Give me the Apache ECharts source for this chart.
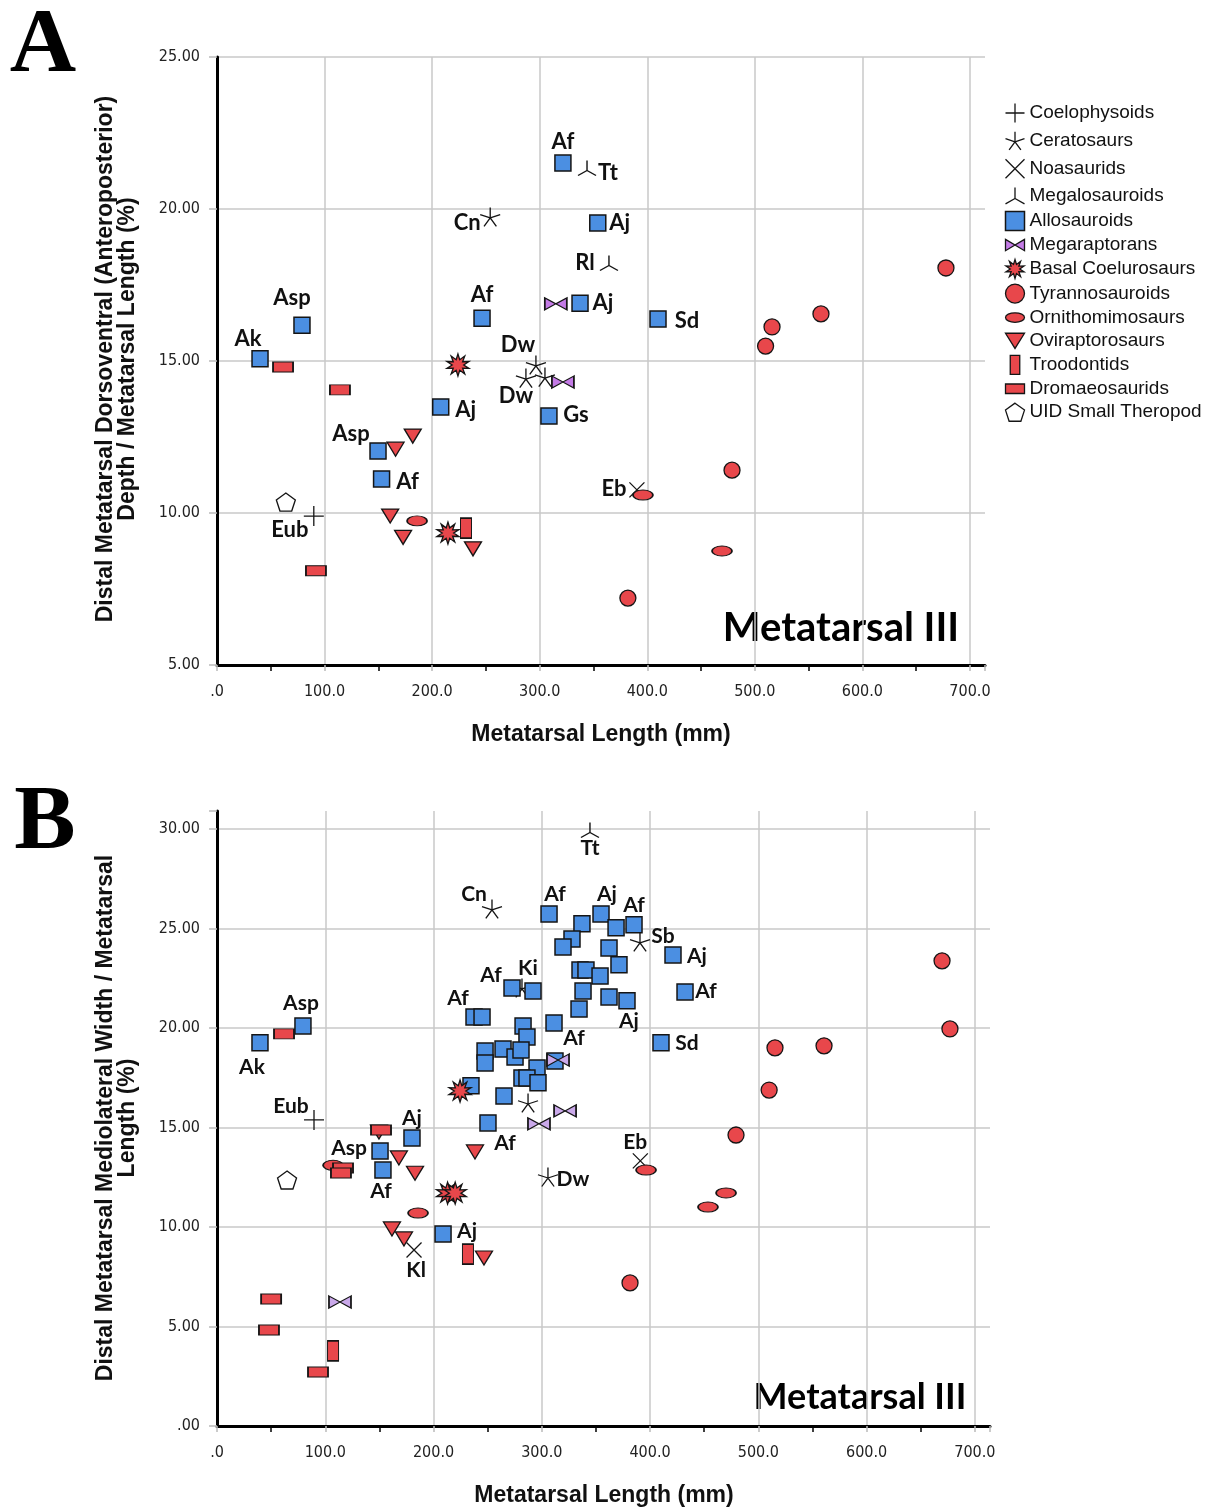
<!DOCTYPE html>
<html><head><meta charset="utf-8">
<script src="https://cdn.jsdelivr.net/npm/echarts@6/dist/echarts.min.js"></script>
<style>html,body{margin:0;padding:0;background:#fff}#c{width:1209px;height:1508px}</style>
</head><body><div id="c"></div><script>
// ---------------- DATA ----------------
const groupNames = ['Coelophysoids','Ceratosaurs','Noasaurids','Megalosauroids','Allosauroids','Megaraptorans','Basal Coelurosaurs','Tyrannosauroids','Ornithomimosaurs','Oviraptorosaurs','Troodontids','Dromaeosaurids','UID Small Theropod'];
const xTickValues = [0,100,200,300,400,500,600,700];
const yTicksA = [5,10,15,20,25];
const yTicksB = [0,5,10,15,20,25,30];

// Panel A: [metatarsal length (mm), depth/length (%), label]
const aCoelophysoids = [[90,9.9,'Eub']];
const aCeratosaurs = [[254,19.74,'Cn'],[296.5,14.87,'Dw'],[287.2,14.44,'Dw'],[304.9,14.47,'']];
const aNoasaurids = [[390.4,10.76,'Eb']];
const aMegalosauroids = [[344,21.35,'Tt'],[364.4,18.22,'Rl']];
const aAllosauroids = [[321.6,21.51,'Af'],[354,19.54,'Aj'],[337.5,16.9,'Aj'],[246.4,16.41,'Af'],[410,16.38,'Sd'],[79,16.18,'Asp'],[40,15.07,'Ak'],[208,13.49,'Aj'],[308.6,13.19,'Gs'],[149.7,12.04,'Asp'],[153,11.12,'Af']];
const aMegaraptorans = [[315,16.88],[321.6,14.31]];
const aBasalCoelurosaurs = [[224,14.87],[214.7,9.34]];
const aTyrannosauroids = [[677.7,18.06],[561.5,16.55],[516,16.12],[510,15.49],[478.8,11.41],[382,7.2]];
const aOrnithomimosaurs = [[396,10.59],[186,9.74],[469.5,8.75]];
const aOviraptorosaurs = [[182,12.53],[166,12.1],[161,9.9],[173,9.2],[238,8.82]];
const aTroodontids = [[231.5,9.5]];
const aDromaeosaurids = [[61.4,14.8],[114.3,14.05],[92,8.1]];
const aUID = [[64,10.36]];

// Panel B: [metatarsal length (mm), width/length (%), label]
const bCoelophysoids = [[89.6,15.38,'Eub']];
const bCeratosaurs = [[254,25.98,'Cn'],[390.7,24.32,'Sb'],[281.7,22.01,'Ki'],[287.3,16.23,''],[305.7,12.51,'Dw']];
const bNoasaurids = [[391,13.32,'Eb'],[182,8.84,'Kl']];
const bMegalosauroids = [[344.5,29.95,'Tt']];
const bAllosauroids = [[306.7,25.73,'Af'],[337.1,25.23],[327.9,24.47],[319.6,24.07],[354.7,25.73,'Aj'],[368.6,25.03],[385.2,25.18,'Af'],[362.1,24.02],[371.3,23.17],[335.3,22.91],[340.8,22.91],[353.8,22.61],[338.1,21.86],[362.1,21.56],[378.7,21.36,'Aj'],[334.4,20.95],[311.3,20.25,'Af'],[272.5,22.01,'Af'],[291.9,21.86],[237.4,20.55,'Af'],[244.8,20.55],[282.7,20.10],[286.3,19.55],[247.6,18.84],[247.6,18.24],[264.2,18.94],[275.3,18.54],[280.8,18.89],[295.6,17.99],[312.2,18.34],[281.7,17.49],[286.3,17.49],[296.5,17.24],[234.6,17.09],[265.1,16.58],[250.3,15.23,'Af'],[421.2,23.67,'Aj'],[432.3,21.81,'Af'],[410.1,19.25,'Sd'],[39.7,19.25,'Ak'],[79.4,20.10,'Asp'],[180.1,14.47,'Aj'],[150.6,13.82,'Asp'],[153.3,12.86,'Af'],[208.8,9.65,'Aj']];
const bMegaraptorans = [[315,18.39],[321.5,15.83],[297.4,15.18],[113.6,6.23]];
const bBasalCoelurosaurs = [[224.5,16.83],[213,11.7],[220,11.7]];
const bTyrannosauroids = [[669.7,23.37],[677,19.95],[515.4,19.0],[560.7,19.1],[510,16.88],[479.4,14.62],[381.5,7.19]];
const bOrnithomimosaurs = [[396.3,12.86],[470.2,11.71],[453.5,11.0],[185.7,10.7],[107.2,13.1]];
const bOviraptorosaurs = [[149.6,14.77],[168,13.47],[182.9,12.7],[161.6,9.9],[172.7,9.4],[246.6,8.44],[238.3,13.77]];
const bTroodontids = [[231.8,8.64],[107.2,3.77]];
const bDromaeosaurids = [[61.9,19.7],[151.5,14.87],[116.4,12.96],[114.5,12.71],[50,6.38],[48,4.82],[93.3,2.71]];
const bUID = [[64.7,12.36]];

// ---------------- STYLE ----------------
const LABEL_OFFSETS = {
  A: {
    Coelophysoids:{0:[-24,14]},
    Ceratosaurs:{0:[-23,6],1:[-18,-20],2:[-10,18]},
    Noasaurids:{0:[-23,-1]},
    Megalosauroids:{0:[21,5],1:[-24,0]},
    Allosauroids:{0:[0,-21],1:[22,0],2:[23,0],3:[0,-23],4:[29,2],5:[-10,-27],6:[-12,-20],7:[25,3],8:[27,-1],9:[-27,-17],10:[26,3]}
  },
  B: {
    Coelophysoids:{0:[-23,-14]},
    Ceratosaurs:{0:[-18,-15],1:[23,-6],2:[6,-20],4:[25,2]},
    Noasaurids:{0:[-5,-19],1:[2,20]},
    Megalosauroids:{0:[0,18]},
    Allosauroids:{0:[6,-20],4:[6,-20],6:[0,-20],14:[2,20],16:[20,15],17:[-21,-13],19:[-16,-19],35:[17,20],36:[24,1],37:[21,-1],38:[26,0],39:[-8,24],40:[-2,-23],41:[0,-20],42:[-31,-3],43:[-2,21],44:[24,-3]}
  }
};

function starPath(n, ro, ri){let s='';for(let i=0;i<2*n;i++){const r=i%2?ri:ro;const a=-Math.PI/2+i*Math.PI/n;s+=(i?'L':'M')+(10+r*Math.cos(a)).toFixed(2)+','+(10+r*Math.sin(a)).toFixed(2);}return 'path://'+s+'Z';}
function polyPath(n){let s='';for(let i=0;i<n;i++){const a=-Math.PI/2+i*2*Math.PI/n;s+=(i?'L':'M')+(10+10*Math.cos(a)).toFixed(2)+','+(10+10*Math.sin(a)).toFixed(2);}return 'path://'+s+'Z';}
function asterisk(){const angs=[90,18,162,-54,234];let s='';angs.forEach(d=>{const a=d*Math.PI/180;s+='M10,10L'+(10+10*Math.cos(a)).toFixed(2)+','+(10-10*Math.sin(a)).toFixed(2);});return 'path://'+s;}

const RED='#e8474b', BLUE='#4b8fe2';
const STYLE = {
  'Coelophysoids':{symbol:'path://M0,10L20,10M10,0L10,20',size:[20,20],fill:'none',lw:1.3},
  'Ceratosaurs':{symbol:asterisk(),size:[20,19],fill:'none',lw:1.3},
  'Noasaurids':{symbol:'path://M0,0L20,20M20,0L0,20',size:[15,15],fill:'none',lw:1.3},
  'Megalosauroids':{symbol:'path://M10,10L10,0M10,10L1.34,15M10,10L18.66,15',size:[18,15],fill:'none',lw:1.3},
  'Allosauroids':{symbol:'path://M0,0L16,0L16,16L0,16Z',size:[16,16],fill:BLUE,lw:1.5},
  'Megaraptorans':{symbol:'path://M0,0L10,6L0,12ZM20,0L10,6L20,12Z',size:[22,12],fill:'#c47be6',fillB:'#caa9ea',lw:1.3},
  'Basal Coelurosaurs':{symbol:starPath(10,10,5),size:[22,22],fill:RED,lw:1.3},
  'Tyrannosauroids':{symbol:'circle',size:[16,16],fill:RED,lw:1.3},
  'Ornithomimosaurs':{symbol:'path://M0,5A10,5,0,1,0,20,5A10,5,0,1,0,0,5Z',size:[20,10],fill:RED,lw:1.3},
  'Oviraptorosaurs':{symbol:'path://M0,0L20,0L10,16Z',size:[17,14],fill:RED,lw:1.3},
  'Troodontids':{symbol:'path://M0,0L10,0L10,20L0,20Z',size:[11,20],fill:RED,lw:1.3},
  'Dromaeosaurids':{symbol:'path://M0,0L20,0L20,10L0,10Z',size:[20,10],fill:RED,lw:1.3},
  'UID Small Theropod':{symbol:polyPath(5),size:[19,18],fill:'#ffffff',lw:1.3}
};
const DATA_A = [aCoelophysoids,aCeratosaurs,aNoasaurids,aMegalosauroids,aAllosauroids,aMegaraptorans,aBasalCoelurosaurs,aTyrannosauroids,aOrnithomimosaurs,aOviraptorosaurs,aTroodontids,aDromaeosaurids,aUID];
const DATA_B = [bCoelophysoids,bCeratosaurs,bNoasaurids,bMegalosauroids,bAllosauroids,bMegaraptorans,bBasalCoelurosaurs,bTyrannosauroids,bOrnithomimosaurs,bOviraptorosaurs,bTroodontids,bDromaeosaurids,bUID];

const LABEL_FONT = {fontFamily:'Lato', fontWeight:'bold', fontSize:22, color:'#111', align:'center', verticalAlign:'middle'};

function mkSeries(panel, name, arr){
  const st = STYLE[name];
  const offs = (LABEL_OFFSETS[panel?'B':'A'][name])||{};
  return {
    type:'scatter', name, xAxisIndex:panel, yAxisIndex:panel,
    symbol:st.symbol, symbolSize:st.size,
    itemStyle:{color:(panel===1&&st.fillB)?st.fillB:st.fill, borderColor:'#151515', borderWidth:st.lw, opacity:1},
    emphasis:{disabled:true}, silent:true,
    data: arr.map((p,i)=>{
      const d={value:[p[0],p[1]]};
      if(p[2]){ d.label=Object.assign({show:true, formatter:p[2], position:['50%','50%'], offset:offs[i]||[0,-20]}, LABEL_FONT, {fontSize: panel?21:22}); }
      return d;
    })
  };
}

const series=[];
groupNames.forEach((n,i)=>series.push(mkSeries(0,n,DATA_A[i])));
groupNames.forEach((n,i)=>series.push(mkSeries(1,n,DATA_B[i])));

const tickFont = {fontFamily:"'Liberation Sans Narrow','Arial Narrow','DejaVu Sans Condensed','Liberation Sans',sans-serif", fontSize:16, color:'#222'};
function xAxisCfg(gi){
  return {type:'value', gridIndex:gi, min:0, max:714, interval:100,
    axisLine:{show:true, onZero:false, lineStyle:{color:'#000', width:3}},
    axisTick:{show:true, length:6, lineStyle:{color:'#bbb', width:1.5}},
    minorTick:{show:true, splitNumber:2, length:6, lineStyle:{color:'#000', width:1.5}},
    splitLine:{show:true, showMaxLine:false, lineStyle:{color:'#c8c8c8', width:1.5}},
    axisLabel:Object.assign({margin:19, formatter:v=>xTickValues.indexOf(v)<0?'':(v===0?'.0':v.toFixed(1))}, tickFont)
  };
}
function yAxisCfg(gi, min, max, ticks){
  return {type:'value', gridIndex:gi, min, max, interval:5,
    axisLine:{show:true, onZero:false, lineStyle:{color:'#000', width:3}},
    axisTick:{show:true, length:8, lineStyle:{color:'#bbb', width:1.5}},
    splitLine:{show:true, showMaxLine: max===25, lineStyle:{color:'#c8c8c8', width:1.5}},
    axisLabel:Object.assign({margin:17, formatter:v=>ticks.indexOf(v)<0?'':(v===0?'.00':v.toFixed(2))}, tickFont)
  };
}

const axisTitleFont = 'bold 23px "Liberation Sans", Arial, sans-serif';
const yTitleFont = 'bold 23px "Liberation Sans", Arial, sans-serif';
const option = {
  backgroundColor:'#fff', animation:false,
  grid:[{left:217, top:57, width:768, height:608},{left:217, top:811, width:773, height:615}],
  xAxis:[xAxisCfg(0), xAxisCfg(1)],
  yAxis:[yAxisCfg(0,5,25,yTicksA), yAxisCfg(1,0,30.9,yTicksB)],
  legend:{
    data: groupNames.map(n=>({name:n, icon:STYLE[n].symbol, itemStyle:{color:STYLE[n].fill, borderColor:'#151515', borderWidth:STYLE[n].lw}})),
    orient:'vertical', left:1003, top:101, padding:0, itemWidth:19, itemHeight:19, itemGap:4.3,
    textStyle:{fontSize:19, fontFamily:'"Liberation Sans", Arial, sans-serif', color:'#111'},
    selectedMode:false, symbolKeepAspect:true
  },
  graphic:[
    {type:'text', x:43, y:47, style:{text:'A', font:'bold 92px "Liberation Serif", "Times New Roman", serif', fill:'#000', textAlign:'center', textVerticalAlign:'middle'}},
    {type:'text', x:45, y:824, style:{text:'B', font:'bold 92px "Liberation Serif", "Times New Roman", serif', fill:'#000', textAlign:'center', textVerticalAlign:'middle'}},
    {type:'text', x:841, y:628, style:{text:'Metatarsal III', font:'bold 40px Lato, sans-serif', fill:'#000', textAlign:'center', textVerticalAlign:'middle'}},
    {type:'text', x:860, y:1397, style:{text:'Metatarsal III', font:'bold 36px Lato, sans-serif', fill:'#000', textAlign:'center', textVerticalAlign:'middle'}},
    {type:'text', x:601, y:735, style:{text:'Metatarsal Length (mm)', font:axisTitleFont, fill:'#111', textAlign:'center', textVerticalAlign:'middle'}},
    {type:'text', x:604, y:1496, style:{text:'Metatarsal Length (mm)', font:axisTitleFont, fill:'#111', textAlign:'center', textVerticalAlign:'middle'}},
    {type:'text', x:117, y:359, rotation:Math.PI/2, style:{text:'Distal Metatarsal Dorsoventral (Anteroposterior)\nDepth / Metatarsal Length (%)', font:yTitleFont, lineHeight:22, fill:'#111', textAlign:'center', textVerticalAlign:'middle'}},
    {type:'text', x:117, y:1118, rotation:Math.PI/2, style:{text:'Distal Metatarsal Mediolateral Width / Metatarsal\nLength (%)', font:yTitleFont, lineHeight:22, fill:'#111', textAlign:'center', textVerticalAlign:'middle'}}
  ],
  series
};
const chart = echarts.init(document.getElementById('c'), null, {renderer:'canvas'});
chart.setOption(option);
</script></body></html>
